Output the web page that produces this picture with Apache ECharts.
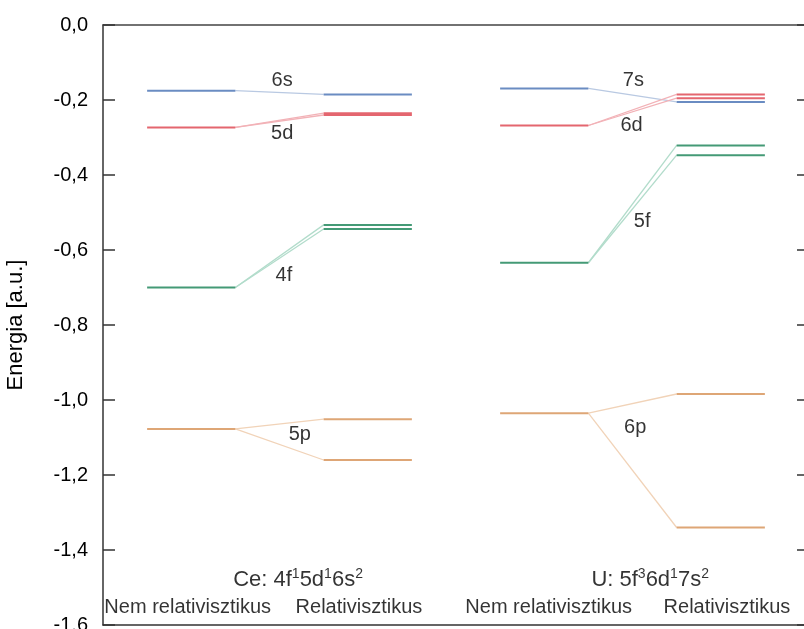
<!DOCTYPE html>
<html>
<head>
<meta charset="utf-8">
<script src="https://cdn.jsdelivr.net/npm/echarts@6/dist/echarts.min.js"></script>
<style>
  html, body { margin: 0; padding: 0; background: #fff; }
  #main { width: 804px; height: 629px; }
</style>
</head>
<body>
<div id="main"></div>
<script>
// energy levels (a.u.)
const ceOrbitals = ['6s', '5d', '4f', '5p']
const ceNonRel = [-0.175, -0.273, -0.700, -1.077]
const ceRel = [[-0.185], [-0.235, -0.240], [-0.533, -0.544], [-1.051, -1.160]]

const uOrbitals = ['7s', '6d', '5f', '6p']
const uNonRel = [-0.169, -0.268, -0.634, -1.035]
const uRel = [[-0.205], [-0.185, -0.195], [-0.321, -0.347], [-0.984, -1.340]]

const orbitalColors = ['#6a8cc2', '#e4666f', '#449a76', '#dea676']
const connectorColors = ['#b9c9e2', '#f2b2b7', '#b2dccb', '#f1d3b8']

// x spans of the four columns, in axis units
const columnSpans = [[0.5, 1.5], [2.5, 3.5], [4.5, 5.5], [6.5, 7.5]]
const columnLabels = ['Nem relativisztikus', 'Relativisztikus', 'Nem relativisztikus', 'Relativisztikus']
const columnLabelX = [0.96, 2.9, 5.05, 7.07]
const configLabels = ['Ce: 4f¹5d¹6s²', 'U: 5f³6d¹7s²']
const configLabelX = [2.21, 6.2]

// where the orbital names sit [x, y]
const ceLabelPos = [[2.03, -0.147], [2.03, -0.288], [2.05, -0.667], [2.23, -1.093]]
const uLabelPos = [[6.01, -0.149], [5.99, -0.267], [6.11, -0.525], [6.03, -1.072]]

const font = 'Liberation Sans, Arial, sans-serif'
const sup = { '¹': '1', '²': '2', '³': '3' }
const gridLeft = 103
const gridRight = -5
const plotWidth = 804 - gridRight - gridLeft

function levelSeries (nonRel, rel, nrSpan, rSpan) {
  const out = []
  nonRel.forEach((e, i) => {
    out.push({
      type: 'line', symbol: 'none', silent: true, z: 3,
      lineStyle: { color: orbitalColors[i], width: 2 },
      data: [[nrSpan[0], e], [nrSpan[1], e]]
    })
    rel[i].forEach(r => {
      out.push({
        type: 'line', symbol: 'none', silent: true, z: 2,
        lineStyle: { color: connectorColors[i], width: 1.3 },
        data: [[nrSpan[1], e], [rSpan[0], r]]
      })
      out.push({
        type: 'line', symbol: 'none', silent: true, z: 3,
        lineStyle: { color: orbitalColors[i], width: 2 },
        data: [[rSpan[0], r], [rSpan[1], r]]
      })
    })
  })
  return out
}

function textSeries (points, size) {
  return {
    type: 'scatter', symbolSize: 0, silent: true, z: 5,
    label: {
      show: true, position: 'inside', color: '#000',
      fontFamily: font, fontSize: size,
      formatter: p => p.data[2]
    },
    data: points
  }
}

// config line with real superscripts
const configSeries = {
  type: 'scatter', symbolSize: 0, silent: true, z: 5,
  label: {
    show: true, position: 'inside',
    formatter: p => p.data[2].split('').map(ch => sup[ch] ? '{s|' + sup[ch] + '}' : '{a|' + ch + '}').join(''),
    rich: {
      a: { fontFamily: font, fontSize: 22, color: '#000', lineHeight: 26 },
      s: { fontFamily: font, fontSize: 14, color: '#000', lineHeight: 26, verticalAlign: 'top' }
    }
  },
  data: configLabels.map((n, i) => [configLabelX[i], -1.48, n])
}

const series = [
  ...levelSeries(ceNonRel, ceRel, columnSpans[0], columnSpans[1]),
  ...levelSeries(uNonRel, uRel, columnSpans[2], columnSpans[3]),
  textSeries(ceOrbitals.map((n, i) => [ceLabelPos[i][0], ceLabelPos[i][1], n]), 20),
  textSeries(uOrbitals.map((n, i) => [uLabelPos[i][0], uLabelPos[i][1], n]), 20),
  textSeries(columnLabels.map((n, i) => [columnLabelX[i], -1.552, n]), 20),
  configSeries
]

// tick-only axes, shifted across the plot so the ticks point inwards
const tickAxis = (position) => ({
  type: 'value', min: -1.6, max: 0, interval: 0.2, position, offset: -plotWidth,
  axisLine: { show: false, onZero: false },
  axisTick: { show: true, length: 12, lineStyle: { color: '#333', width: 1.5 } },
  axisLabel: { show: false }, splitLine: { show: false }
})

const chart = echarts.init(document.getElementById('main'))
chart.setOption({
  animation: false,
  backgroundColor: '#fff',
  grid: { left: gridLeft, right: gridRight, top: 25, bottom: 4, outerBoundsMode: 'none', containLabel: false },
  xAxis: [
    {
      type: 'value', min: 0, max: 8, position: 'bottom',
      axisLine: { show: true, onZero: false, lineStyle: { color: '#333', width: 1.5 } },
      axisTick: { show: false }, axisLabel: { show: false }, splitLine: { show: false }
    },
    {
      type: 'value', min: 0, max: 8, position: 'top',
      axisLine: { show: true, onZero: false, lineStyle: { color: '#444', width: 1.5 } },
      axisTick: { show: false }, axisLabel: { show: false }, splitLine: { show: false }
    }
  ],
  yAxis: [
    {
      type: 'value', min: -1.6, max: 0, interval: 0.2, position: 'left',
      name: 'Energia [a.u.]', nameLocation: 'middle', nameGap: 76,
      nameTextStyle: { fontFamily: font, fontSize: 22, color: '#000' },
      axisLine: { show: true, onZero: false, lineStyle: { color: '#333', width: 1.5 } },
      axisTick: { show: false },
      axisLabel: {
        fontFamily: font, fontSize: 20, color: '#000', margin: 15,
        formatter: v => v.toFixed(1).replace('.', ',').replace('-0,0', '0,0')
      },
      splitLine: { show: false }
    },
    tickAxis('right'),
    tickAxis('left')
  ],
  series
})
</script>
</body>
</html>
